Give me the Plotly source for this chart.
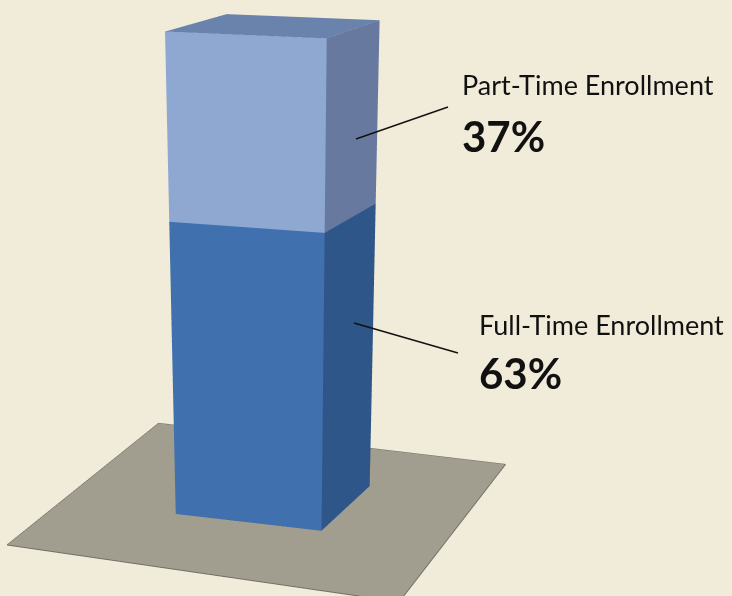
import plotly.graph_objects as go

categories = ["Full-Time Enrollment", "Part-Time Enrollment"]
shares = [63, 37]
labels = ["63%", "37%"]
front_colors = ["#4070ad", "#8ea8d2"]
side_colors = ["#2f5688", "#67799f"]
top_color = "#6a83ad"
floor_color = "#a19d8f"
floor_edge = "#6f6d66"
bg = "#f1ecda"

W, H = 732, 1788
HALF = 17
FLOOR = [(-42.6, -48.7), (45.7, -53.3), (41.9, 44.2), (-48.6, 48.6)]

x, y, z, i, j, k, fc = [], [], [], [], [], [], []


def quad(pts, color):
    n = len(x)
    for p in pts:
        x.append(p[0]); y.append(p[1]); z.append(p[2])
    i.extend([n, n]); j.extend([n + 1, n + 2]); k.extend([n + 2, n + 3])
    fc.extend([color, color])


quad([(a, b, 0) for a, b in FLOOR], floor_color)
base = 0
for s, f, d in zip(shares, front_colors, side_colors):
    t = base + s
    quad([(-HALF, -HALF, base), (HALF, -HALF, base), (HALF, -HALF, t), (-HALF, -HALF, t)], f)
    quad([(HALF, -HALF, base), (HALF, HALF, base), (HALF, HALF, t), (HALF, -HALF, t)], d)
    base = t
quad([(-HALF, -HALF, base), (HALF, -HALF, base), (HALF, HALF, base), (-HALF, HALF, base)], top_color)

fig = go.Figure(go.Mesh3d(x=x, y=y, z=z, i=i, j=j, k=k, facecolor=fc, flatshading=True,
                          lighting=dict(ambient=1, diffuse=0, specular=0, fresnel=0),
                          hoverinfo="skip"))
fig.add_trace(go.Scatter3d(x=[p[0] for p in FLOOR + FLOOR[:1]], y=[p[1] for p in FLOOR + FLOOR[:1]],
                           z=[0] * 5, mode="lines", line=dict(color=floor_edge, width=2), hoverinfo="skip"))
hidden = dict(visible=False, showgrid=False, zeroline=False, showticklabels=False)
fig.update_layout(
    width=W, height=H, margin=dict(l=0, r=0, t=0, b=0), paper_bgcolor=bg, showlegend=False,
    scene=dict(
        domain=dict(x=[0, 0.75], y=[0, 1]), bgcolor=bg,
        xaxis=dict(hidden, range=[-88, 88]),
        yaxis=dict(hidden, range=[-88, 88]),
        zaxis=dict(hidden, range=[0, 100]),
        aspectmode="manual", aspectratio=dict(x=2, y=2, z=1.13),
        camera=dict(eye=dict(x=1.83, y=-5.02, z=1.13), center=dict(x=0, y=0, z=-1.705), up=dict(x=0, y=0, z=1)),
    ),
)


def note(px, py, text, size, bold=False):
    fig.add_annotation(xref="paper", yref="paper", x=px / W, y=1 - py / H, text=f"<b>{text}</b>" if bold else text,
                       showarrow=False, xanchor="left", yanchor="middle", xshift=-2,
                       font=dict(family="Lato, sans-serif", size=size, color="#111111", weight=900 if bold else 400))


note(462, 84, categories[1], 27)
note(462, 136, labels[1], 42, True)
note(479, 325, categories[0], 27)
note(479, 373, labels[0], 42, True)
for a, b, c, e in [(356, 139, 448, 107), (354, 323, 458, 353)]:
    fig.add_shape(type="line", xref="paper", yref="paper", x0=a / W, y0=1 - b / H, x1=c / W, y1=1 - e / H,
                  line=dict(color="#111111", width=1.5))
fig.write_html("out.html", config=dict(displayModeBar=False),
               post_script=f"document.documentElement.style.overflow='hidden';document.body.style.overflow='hidden';document.body.style.margin='0';document.body.style.background='{bg}';")
